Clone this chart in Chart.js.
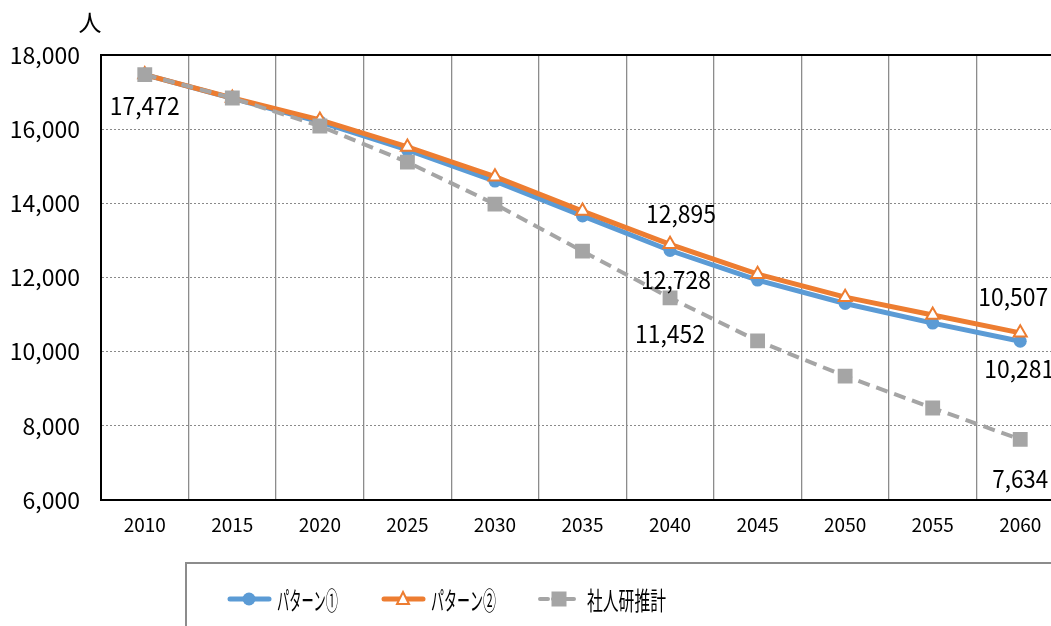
<!DOCTYPE html>
<html lang="ja">
<head>
<meta charset="utf-8">
<script src="https://cdn.jsdelivr.net/npm/chart.js@4.4.1/dist/chart.umd.min.js"></script>
<style>
  html, body { margin: 0; padding: 0; background: #fff; overflow: hidden; }
  #chart { display: block; }
</style>
</head>
<body>
<canvas id="chart" width="1075" height="626"></canvas>
<script>
// データ
const years = ['2010', '2015', '2020', '2025', '2030', '2035', '2040', '2045', '2050', '2055', '2060'];
const pattern1 = [17472, 16830, 16200, 15440, 14600, 13660, 12728, 11930, 11300, 10770, 10281];
const pattern2 = [17472, 16840, 16250, 15520, 14720, 13790, 12895, 12090, 11470, 10990, 10507];
const shajinken = [17472, 16840, 16085, 15110, 13980, 12710, 11452, 10290, 9340, 8480, 7634];
const seriesNames = ['パターン①', 'パターン②', '社人研推計'];
const yTicks = [6000, 8000, 10000, 12000, 14000, 16000, 18000];

const BLUE = '#5B9BD5';
const ORANGE = '#ED7D31';
const GRAY = '#A5A5A5';
const FONT = '"Noto Sans CJK JP", "Noto Sans", sans-serif';

// 数値ラベル（どの系列のどの点か、位置ずれ）
const valueLabels = [
  { ds: 0, i: 0, dx: 0, dy: 31 },
  { ds: 1, i: 6, dx: 11, dy: -30 },
  { ds: 0, i: 6, dx: 6, dy: 29 },
  { ds: 2, i: 6, dx: 0, dy: 36 },
  { ds: 1, i: 10, dx: -7, dy: -36 },
  { ds: 0, i: 10, dx: -1, dy: 28 },
  { ds: 2, i: 10, dx: 0, dy: 39 }
];

const fmt = v => v.toLocaleString('en-US');

// 横方向だけ縮めて文字を書く
function squeezeText(ctx, text, x, y, targetW) {
  const w = ctx.measureText(text).width;
  const k = Math.min(1, targetW / w);
  ctx.save();
  ctx.translate(x, y);
  ctx.scale(k, 1);
  ctx.fillText(text, 0, 0);
  ctx.restore();
}

// 枠線・単位・数値ラベル・凡例
const decorPlugin = {
  id: 'decor',
  afterDatasetsDraw(chart) {
    const ctx = chart.ctx;
    const a = chart.chartArea;
    ctx.save();
    // 上の枠線
    ctx.strokeStyle = '#000';
    ctx.lineWidth = 2;
    ctx.beginPath();
    ctx.moveTo(a.left, a.top);
    ctx.lineTo(a.right, a.top);
    ctx.stroke();

    // 数値ラベル
    ctx.fillStyle = '#000';
    ctx.font = '24px ' + FONT;
    ctx.textAlign = 'center';
    ctx.textBaseline = 'middle';
    valueLabels.forEach(l => {
      const ds = chart.data.datasets[l.ds];
      const pt = chart.getDatasetMeta(l.ds).data[l.i];
      const txt = fmt(ds.data[l.i]);
      squeezeText(ctx, txt, pt.x + l.dx, pt.y + l.dy, txt.length > 5 ? 70 : 56);
    });
    ctx.restore();
  },
  afterDraw(chart) {
    const ctx = chart.ctx;
    ctx.save();
    // 単位
    ctx.fillStyle = '#000';
    ctx.font = '23px ' + FONT;
    ctx.textAlign = 'center';
    ctx.textBaseline = 'middle';
    ctx.fillText('人', 90, 22);

    // 凡例の枠
    ctx.strokeStyle = '#8c8c8c';
    ctx.lineWidth = 2;
    ctx.strokeRect(186, 563, 1000, 120);

    const ly = 599;
    const items = [
      { x: 228, color: BLUE, dash: [], width: 5, text: seriesNames[0], tw: 61 },
      { x: 382, color: ORANGE, dash: [], width: 5, text: seriesNames[1], tw: 65 },
      { x: 538, color: GRAY, dash: [8, 5], width: 4, text: seriesNames[2], tw: 79 }
    ];
    items.forEach((it, k) => {
      ctx.strokeStyle = it.color;
      ctx.lineWidth = it.width;
      ctx.setLineDash(it.dash);
      ctx.lineCap = 'round';
      ctx.beginPath();
      ctx.moveTo(it.x + 2, ly);
      ctx.lineTo(it.x + 41, ly);
      ctx.stroke();
      ctx.setLineDash([]);
      const cx = it.x + 21;
      if (k === 0) {
        ctx.fillStyle = BLUE;
        ctx.beginPath();
        ctx.arc(cx, ly, 6.5, 0, Math.PI * 2);
        ctx.fill();
      } else if (k === 1) {
        ctx.fillStyle = '#fff';
        ctx.strokeStyle = ORANGE;
        ctx.lineWidth = 2;
        ctx.beginPath();
        ctx.moveTo(cx, ly - 7);
        ctx.lineTo(cx + 6, ly + 5);
        ctx.lineTo(cx - 6, ly + 5);
        ctx.closePath();
        ctx.fill();
        ctx.stroke();
      } else {
        ctx.fillStyle = GRAY;
        ctx.fillRect(cx - 7.5, ly - 7.5, 15, 15);
      }
      ctx.fillStyle = '#000';
      ctx.font = '25px ' + FONT;
      ctx.textAlign = 'left';
      ctx.textBaseline = 'middle';
      squeezeText(ctx, it.text, it.x + 49, ly + 1, it.tw);
    });
    ctx.restore();
  }
};

new Chart(document.getElementById('chart'), {
  type: 'line',
  data: {
    labels: years,
    datasets: [
      {
        label: seriesNames[0],
        data: pattern1,
        borderColor: BLUE,
        backgroundColor: BLUE,
        borderWidth: 5,
        pointStyle: 'circle',
        pointRadius: 6.5,
        pointBorderWidth: 0,
        tension: 0,
        order: 3
      },
      {
        label: seriesNames[1],
        data: pattern2,
        borderColor: ORANGE,
        backgroundColor: '#fff',
        borderWidth: 5,
        pointStyle: 'triangle',
        pointRadius: 7.5,
        pointBorderColor: ORANGE,
        pointBackgroundColor: '#fff',
        pointBorderWidth: 2,
        tension: 0,
        order: 2
      },
      {
        label: seriesNames[2],
        data: shajinken,
        borderColor: GRAY,
        backgroundColor: GRAY,
        borderWidth: 4,
        borderDash: [12, 7],
        pointStyle: 'rect',
        pointRadius: 10.5,
        pointBorderWidth: 0,
        tension: 0,
        order: 1
      }
    ]
  },
  options: {
    responsive: false,
    animation: false,
    layout: { padding: { top: 55, left: 0, right: 11, bottom: 0 } },
    plugins: {
      legend: { display: false },
      tooltip: { enabled: false }
    },
    scales: {
      x: {
        offset: true,
        grid: {
          offset: true,
          color: '#8c8c8c',
          lineWidth: 1.3,
          drawTicks: false
        },
        border: { color: '#000', width: 2 },
        ticks: {
          padding: 13,
          color: '#000',
          font: { size: 19, family: FONT }
        },
        afterFit(scale) { scale.height = 126; }
      },
      y: {
        min: 6000,
        max: 18000,
        afterBuildTicks(scale) { scale.ticks = yTicks.map(v => ({ value: v })); },
        grid: {
          color: '#8a8a8a',
          lineWidth: 1,
          drawTicks: false
        },
        // v4 では border.dash が目盛線の点線になる
        border: { color: '#000', width: 2, dash: [2, 2] },
        ticks: {
          padding: 21,
          color: '#000',
          font: { size: 23, family: FONT },
          callback: v => fmt(v)
        },
        afterFit(scale) { scale.width = 101; }
      }
    }
  },
  plugins: [decorPlugin]
});
</script>
</body>
</html>
